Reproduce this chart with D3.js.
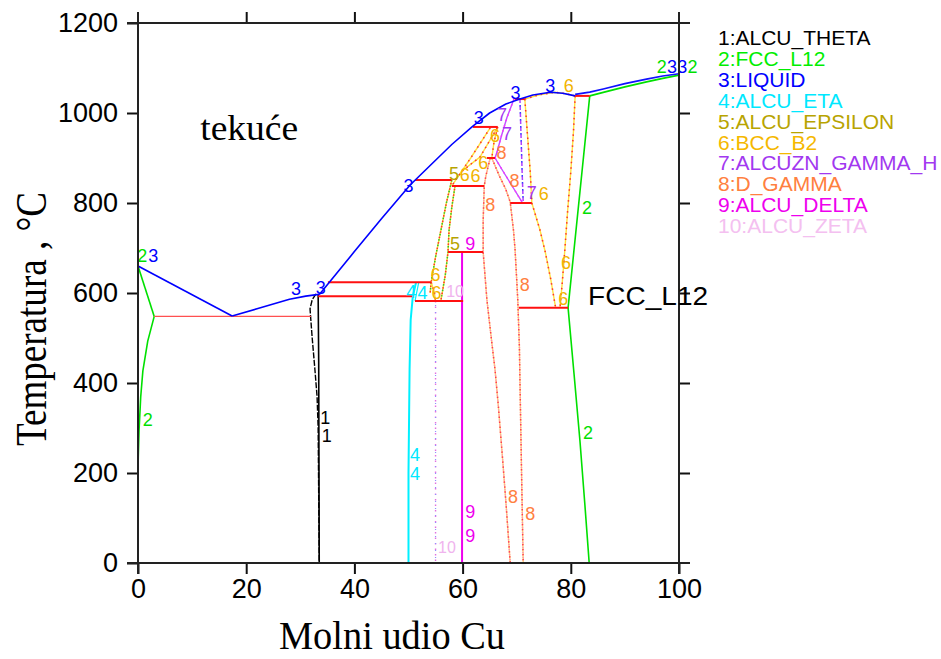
<!DOCTYPE html>
<html><head><meta charset="utf-8">
<script src="https://cdn.jsdelivr.net/npm/d3@7"></script>
<style>
body{margin:0;background:#fff;}
svg{display:block;}
</style></head>
<body>
<svg id="chart" width="941" height="659"></svg>
<script>
// ---------- DATA (mole fraction Cu in %, temperature °C) ----------
const xTicks = [0, 20, 40, 60, 80, 100];
const yTicks = [0, 200, 400, 600, 800, 1000, 1200];

const legendLabels = ["1:ALCU_THETA","2:FCC_L12","3:LIQUID","4:ALCU_ETA","5:ALCU_EPSILON",
  "6:BCC_B2","7:ALCUZN_GAMMA_H","8:D_GAMMA","9:ALCU_DELTA","10:ALCU_ZETA"];

// liquid (3)
const liquidAl  = [[0,660],[17.4,549]];
const liquidMid = [[17.4,549],[22,565],[28,586],[31,593],[33.4,597],[33.6,598],[40,692],[45,765],[50.3,840],
  [55,895],[58,930],[61.9,971],[65,1000],[68,1020],[70.6,1031],[73,1040],[76.2,1046],[78.5,1044],[80.8,1038]];
const liquidCu  = [[80.8,1038],[83.5,1043],[86,1050],[90,1062],[94,1072],[97,1079],[100,1084]];
// FCC (2)
const fccAlSolidus = [[0,660],[3.0,548]];
const fccAlSolvus  = [[3.0,548],[1.8,493],[0.9,427],[0.5,369],[0.2,296],[0.05,236],[0,200],[0,0]];
const fccCuSolidus = [[83.5,1038],[86,1046],[90,1058],[94,1069],[97,1077],[100,1084]];
const fccCuSolvus  = [[83.5,1038],[79.5,567],[80.6,420],[81.7,270],[82.6,130],[83.4,0]];
// theta (1)
const thetaLeft  = [[32.9,598],[32.2,585],[31.8,565],[31.9,548],[32.2,500],[32.7,430],[33.1,370],[33.3,300],[33.5,0]];
const thetaRight = [[33.3,598],[33.4,450],[33.5,0]];
// eta (4)
const etaLeft  = [[51.4,624],[50.8,593],[50.4,540],[50.2,430],[50.0,200],[50.0,0]];
const etaRight = [[51.9,624],[51.5,600],[51.2,582]];
// epsilon (5)
const epsLeft  = [[58.0,851],[57.0,800],[56.0,740],[55.0,680],[54.2,624],[54.0,600]];
const epsRight = [[58.6,838],[58.0,790],[57.5,740],[57.3,691],[56.8,640],[56.0,584]];
// BCC_B2 (6)
const bccSolidus = [[71.5,1031],[74,1040],[77,1046],[79,1043],[80.8,1038]];
const bccLeftUp  = [[71.5,1031],[72,950],[72.5,870],[72.8,800]];
const bccLeftLow = [[72.8,800],[74.3,740],[75.3,690],[76.3,630],[77.2,567]];
const bccRight   = [[80.8,1038],[80.5,960],[80,870],[79.4,780],[78.9,696],[78.4,620],[78.0,567]];
const bccFanA    = [[66.5,969],[65.8,935],[65.4,900]];
const bccFanB    = [[66.4,967],[63.2,902],[60.1,873],[58.6,851]];
const bccFanC    = [[65.1,967],[61.5,900],[58.0,838]];
const bccLowA    = [[54.2,624],[54.8,600],[55.0,582]];
// gamma_H (7)
const gamHLeft  = [[69.5,1031],[68.2,990],[67.2,950],[66.4,915],[66.0,900]];
const gamHLow   = [[66.0,900],[67.5,870],[69.3,835],[71.0,802]];
const gamHRight = [[70.6,1031],[70.8,950],[71.0,870],[71.2,802]];
// D_gamma (8)
const gamLeft  = [[65.1,900],[64.3,860],[64.0,838],[63.8,760],[63.8,691],[64.2,630],[64.5,584],[65.3,500],
  [66.0,429],[66.6,350],[67.4,230],[68.1,120],[68.8,0]];
const gamRight = [[65.4,900],[66.8,860],[68.0,830],[68.8,802],[69.4,740],[69.7,696],[70.0,630],[70.2,584],
  [70.5,480],[70.6,407],[70.9,200],[71.2,0]];
// delta (9), zeta (10)
const delta = [[59.9,691],[59.9,0]];
const zeta  = [[55.0,582],[55.0,0]];
// invariant tie lines [xFrom, xTo, T]
const tieLines = [[3.0,32.0,548],[33.3,50.8,593],[35.1,54.2,624],[51.2,60.1,582],[57.3,63.8,691],
  [51.2,58.0,851],[58.0,64.0,838],[64.5,66.0,900],[61.9,66.5,969],[69.7,71.5,1031],
  [80.8,83.5,1038],[68.8,72.8,800],[70.4,79.5,567]];
// phase number labels [text, x, T, phase]
const phaseLabels = [
  ["2",0.8,684,2],["3",2.8,684,3],["2",1.8,318,2],
  ["3",29.2,609,3],["3",33.8,612,3],["1",34.6,324,1],["1",34.9,284,1],
  ["3",50.0,838,3],["3",63.0,991,3],["3",69.8,1046,3],["3",76.2,1062,3],["6",79.6,1062,6],
  ["2",96.8,1104,2],["3",98.7,1104,3],["3",100.6,1104,3],["2",102.5,1104,2],
  ["2",83.0,789,2],["2",83.2,291,2],
  ["6",79.1,667,6],["6",78.6,587,6],["8",71.5,618,8],["8",65.1,796,8],["8",69.6,851,8],
  ["7",72.8,824,7],["6",75.0,822,6],["7",67.3,996,7],["7",68.2,955,7],["6",66.0,950,6],["8",67.2,912,8],
  ["6",63.8,891,6],["5",58.4,865,5],["6",60.4,864,6],["6",62.4,862,6],
  ["5",58.6,711,5],["9",61.4,711,9],["6",55.0,640,6],["6",55.2,600,6],
  ["4",50.5,604,4],["4",52.6,600,4],["10",58.6,604,10],
  ["4",51.2,241,4],["4",51.2,198,4],["9",61.4,115,9],["9",61.4,60,9],
  ["8",69.3,147,8],["8",72.5,111,8],["10",57.1,36,10]
];

// ---------- STYLE ----------
const phaseColor = {1:"#000000",2:"#00e000",3:"#0000ff",4:"#00e8ff",5:"#b8a400",6:"#f2b400",
  7:"#a238f0",8:"#ff8040",9:"#ee00ee",10:"#f0b4ee"};
const legendColor = ["#000000","#00ee00","#0000ff","#00e8ff","#b8a400","#f5b800","#a238f0","#ff8040","#ee00ee","#f4c0f0"];

const svg = d3.select("#chart");
const xS = d3.scaleLinear().domain([0,100]).range([138,679]);
const yS = d3.scaleLinear().domain([0,1200]).range([563,23]);
const line = d3.line().x(d=>xS(d[0])).y(d=>yS(d[1]));

const g = svg.append("g");

function solid(data, color, w, dash){
  const p = g.append("path").datum(data).attr("d", line).attr("fill","none")
    .attr("stroke", color).attr("stroke-width", w).attr("stroke-linejoin","round");
  if (dash) p.attr("stroke-dasharray", dash);
  return p;
}
function dotted(data, base, overlays){
  if (base) solid(data, base, 1.4);
  overlays.forEach(o => solid(data, o[0], 1.5, o[1]).attr("stroke-dashoffset", o[2]||0));
}

// epsilon (5)
[epsLeft, epsRight].forEach(d => dotted(d, "#f0e030", [["#30c030","1.5,4",0],["#ff3030","1.5,4",2.5]]));
// BCC (6)
[bccSolidus,bccLeftUp,bccLeftLow,bccRight,bccFanA,bccFanB,bccFanC,bccLowA].forEach(d =>
  dotted(d, "#ffe040", [["#ff3030","1.5,4",0]]));
// D_gamma (8)
[gamLeft, gamRight].forEach(d => dotted(d, "#ffd870", [["#ff3060","1.5,3.5",0],["#ff80c0","1,4",2]]));
// gamma_H (7)
[gamHLeft, gamHLow].forEach(d => dotted(d, "#c050ff", [["#ff30ff","1.5,4",0]]));
dotted(gamHRight, null, [["#b040ff","4,3",0],["#3040ff","1.5,5.5",1]]);
// zeta (10)
solid(zeta, "#e070e0", 1.4, "1.5,4");
solid(zeta, "#9090ff", 1.2, "1,6").attr("stroke-dashoffset", 3);
// delta (9)
solid(delta, phaseColor[9], 2);
// eta (4)
solid(etaLeft, "#00f0ff", 2);
solid(etaRight, "#00f0ff", 1.2);
// theta (1)
solid(thetaLeft, "#000", 1.4, "6,1.5");
solid(thetaRight, "#000", 1.6);
// FCC (2)
[fccAlSolidus, fccAlSolvus, fccCuSolvus].forEach(d => solid(d, "#00e000", 1.6));
solid(fccCuSolidus, "#00e000", 1.8);
// tie lines
g.selectAll("line.tie").data(tieLines).enter().append("line").attr("class","tie")
  .attr("x1", d=>xS(d[0])).attr("x2", d=>xS(d[1])).attr("y1", d=>yS(d[2])).attr("y2", d=>yS(d[2]))
  .attr("stroke", d => d[2]===548 ? "#ff5050" : "#ff1010")
  .attr("stroke-width", d => d[2]===548 ? 1.3 : 2);
// liquid (3)
[liquidAl, liquidMid].forEach(d => solid(d, "#0000ff", 1.6));
solid(liquidCu, "#1010ff", 1.6).attr("transform","translate(0,-1.5)");

// phase number labels
g.selectAll("text.pl").data(phaseLabels).enter().append("text").attr("class","pl")
  .attr("x", d=>xS(d[1])).attr("y", d=>yS(d[2]))
  .attr("text-anchor","middle").attr("dy","0.36em")
  .style("font-family","'Liberation Sans', Arial, sans-serif")
  .style("font-size", d => d[0]==="10" ? "16px" : "18px")
  .attr("fill", d => phaseColor[d[3]])
  .text(d => d[0]);

// ---------- AXES ----------
const axFont = "'Liberation Sans', Arial, sans-serif";
const ax = svg.append("g");
const axLeft = ax.append("g").attr("transform",`translate(${xS(0)},0)`)
  .call(d3.axisLeft(yS).tickValues(yTicks).tickFormat(d3.format("d")).tickSize(11).tickPadding(9).tickSizeOuter(0));
const axBottom = ax.append("g").attr("transform",`translate(0,${yS(0)})`)
  .call(d3.axisBottom(xS).tickValues(xTicks).tickFormat(d3.format("d")).tickSize(11).tickPadding(5).tickSizeOuter(0));
const axTop = ax.append("g").attr("transform",`translate(0,${yS(1200)})`)
  .call(d3.axisTop(xS).tickValues(xTicks.slice(1,-1)).tickSize(11).tickFormat("").tickSizeOuter(0));
const axRight = ax.append("g").attr("transform",`translate(${xS(100)},0)`)
  .call(d3.axisRight(yS).tickValues(yTicks.slice(1,-1)).tickSize(11).tickFormat("").tickSizeOuter(0));
[axLeft,axBottom,axTop,axRight].forEach(a => {
  a.select(".domain").remove();
  a.selectAll(".tick line").attr("stroke","#111").attr("stroke-width",2);
  a.selectAll("text").style("font-family", axFont).style("font-size","27px").attr("fill","#000");
});
// frame lines extended past the corners
const ext = 11;
const frame = [
  [xS(0)-ext, yS(0), xS(100)+ext, yS(0)],
  [xS(0)-ext, yS(1200), xS(100)+ext, yS(1200)],
  [xS(0), yS(1200)-ext, xS(0), yS(0)+ext],
  [xS(100), yS(1200)-ext, xS(100), yS(0)+ext]
];
ax.selectAll("line.frame").data(frame).enter().append("line").attr("class","frame")
  .attr("x1",d=>d[0]).attr("y1",d=>d[1]).attr("x2",d=>d[2]).attr("y2",d=>d[3])
  .attr("stroke","#222").attr("stroke-width",2);

// titles
svg.append("text").attr("x", 392).attr("y", 649).attr("text-anchor","middle")
  .attr("textLength", 226).attr("lengthAdjust","spacingAndGlyphs")
  .style("font-family","'Liberation Serif', 'Times New Roman', serif").style("font-size","40px")
  .text("Molni udio Cu");
svg.append("text").attr("transform","translate(46,319) rotate(-90)").attr("text-anchor","middle")
  .attr("textLength", 254).attr("lengthAdjust","spacingAndGlyphs")
  .style("font-family","'Liberation Serif', 'Times New Roman', serif").style("font-size","44px")
  .text("Temperatura , °C");
svg.append("text").attr("x", xS(11.5)).attr("y", yS(940))
  .attr("textLength", 98).attr("lengthAdjust","spacingAndGlyphs")
  .style("font-family","'Liberation Serif', 'Times New Roman', serif").style("font-size","35px")
  .text("tekuće");
svg.append("text").attr("x", xS(83.2)).attr("y", yS(574))
  .attr("textLength", 120).attr("lengthAdjust","spacingAndGlyphs")
  .style("font-family", axFont).style("font-size","25px")
  .text("FCC_L12");

// legend
svg.append("g").selectAll("text").data(legendLabels).enter().append("text")
  .attr("x", 718).attr("y", (d,i) => 45 + i*20.9)
  .style("font-family", axFont).style("font-size","21px")
  .attr("fill", (d,i) => legendColor[i])
  .text(d => d);
</script>
</body></html>
